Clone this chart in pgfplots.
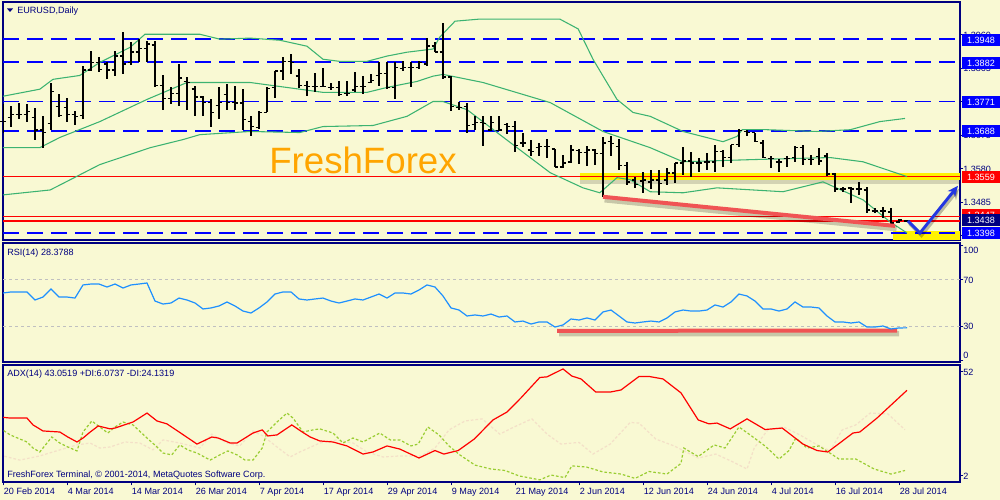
\documentclass[border=0pt]{standalone}
\usepackage{fontspec}
\setmainfont{Liberation Sans}
\usepackage{pgfplots}
\pgfplotsset{compat=1.18}
\usepackage{pgfplotstable}
\usetikzlibrary{arrows.meta}

\definecolor{chartbg}{RGB}{249,249,211}
\definecolor{frame}{RGB}{0,0,128}
\definecolor{band}{RGB}{60,179,113}
\definecolor{levelblue}{RGB}{0,0,255}
\definecolor{trendred}{RGB}{240,84,84}
\definecolor{rsiblue}{RGB}{30,144,255}
\definecolor{pdi}{RGB}{154,205,50}
\definecolor{mdi}{RGB}{244,224,200}
\definecolor{wmark}{RGB}{255,165,0}
\definecolor{arrowblue}{RGB}{35,55,225}
\definecolor{dotgray}{RGB}{192,192,192}

\newcommand\lbl{\fontsize{6.8}{8}\selectfont}

% open / close ticks of the bars
\pgfdeclareplotmark{otick}{\pgfpathmoveto{\pgfqpoint{-2.6pt}{0pt}}\pgfpathlineto{\pgfqpoint{0pt}{0pt}}\pgfusepathqstroke}
\pgfdeclareplotmark{ctick}{\pgfpathmoveto{\pgfqpoint{0pt}{0pt}}\pgfpathlineto{\pgfqpoint{2.6pt}{0pt}}\pgfusepathqstroke}

% EURUSD daily bars, 20 Feb - 29 Jul 2014
\pgfplotstableread{
i o h l c
0 1.3714 1.3763 1.3683 1.3714
1 1.3726 1.3757 1.3700 1.3734
2 1.3734 1.3768 1.3720 1.3734
3 1.3734 1.3763 1.3714 1.3743
4 1.3726 1.3754 1.3663 1.3691
5 1.3691 1.3729 1.3640 1.3683
6 1.3709 1.3825 1.3691 1.3800
7 1.3757 1.3791 1.3726 1.3731
8 1.3754 1.3780 1.3714 1.3734
9 1.3734 1.3743 1.3703 1.3729
10 1.3731 1.3871 1.3720 1.3860
11 1.3860 1.3914 1.3857 1.3882
12 1.3882 1.3897 1.3854 1.3862
13 1.3877 1.3882 1.3834 1.3860
14 1.3860 1.3914 1.3843 1.3900
15 1.3900 1.3968 1.3848 1.3877
16 1.3882 1.3939 1.3874 1.3911
17 1.3911 1.3948 1.3882 1.3922
18 1.3922 1.3942 1.3882 1.3934
19 1.3931 1.3942 1.3811 1.3817
20 1.3817 1.3845 1.3748 1.3780
21 1.3780 1.3811 1.3763 1.3794
22 1.3794 1.3877 1.3757 1.3837
23 1.3828 1.3840 1.3748 1.3825
24 1.3806 1.3814 1.3729 1.3783
25 1.3783 1.3786 1.3729 1.3768
26 1.3768 1.3777 1.3700 1.3740
27 1.3760 1.3811 1.3720 1.3768
28 1.3791 1.3820 1.3748 1.3768
29 1.3768 1.3814 1.3748 1.3766
30 1.3766 1.3806 1.3691 1.3720
31 1.3714 1.3729 1.3672 1.3700
32 1.3697 1.3743 1.3694 1.3740
33 1.3740 1.3811 1.3740 1.3808
34 1.3811 1.3857 1.3780 1.3857
35 1.3857 1.3897 1.3831 1.3885
36 1.3885 1.3905 1.3848 1.3882
37 1.3843 1.3862 1.3808 1.3817
38 1.3817 1.3828 1.3788 1.3814
39 1.3814 1.3851 1.3797 1.3814
40 1.3814 1.3865 1.3811 1.3814
41 1.3811 1.3825 1.3803 1.3811
42 1.3811 1.3828 1.3786 1.3791
43 1.3794 1.3828 1.3786 1.3794
44 1.3803 1.3854 1.3797 1.3814
45 1.3814 1.3843 1.3791 1.3814
46 1.3825 1.3848 1.3825 1.3831
47 1.3845 1.3882 1.3814 1.3851
48 1.3851 1.3882 1.3806 1.3811
49 1.3811 1.3882 1.3777 1.3868
50 1.3865 1.3885 1.3857 1.3868
51 1.3868 1.3882 1.3811 1.3868
52 1.3868 1.3885 1.3862 1.3882
53 1.3877 1.3951 1.3871 1.3928
54 1.3928 1.3939 1.3911 1.3911
55 1.3911 1.3994 1.3834 1.3840
56 1.3840 1.3843 1.3743 1.3757
57 1.3754 1.3771 1.3748 1.3754
58 1.3757 1.3768 1.3683 1.3703
59 1.3706 1.3729 1.3691 1.3711
60 1.3711 1.3729 1.3646 1.3709
61 1.3691 1.3729 1.3686 1.3711
62 1.3689 1.3729 1.3686 1.3691
63 1.3706 1.3711 1.3680 1.3700
64 1.3700 1.3717 1.3629 1.3646
65 1.3654 1.3683 1.3643 1.3654
66 1.3634 1.3663 1.3615 1.3629
67 1.3640 1.3654 1.3615 1.3643
68 1.3643 1.3666 1.3612 1.3643
69 1.3637 1.3637 1.3586 1.3586
70 1.3586 1.3620 1.3583 1.3597
71 1.3600 1.3649 1.3597 1.3634
72 1.3632 1.3637 1.3595 1.3626
73 1.3626 1.3646 1.3589 1.3634
74 1.3634 1.3637 1.3592 1.3623
75 1.3623 1.3669 1.3501 1.3654
76 1.3657 1.3674 1.3615 1.3652
77 1.3643 1.3666 1.3577 1.3589
78 1.3589 1.3600 1.3535 1.3543
79 1.3549 1.3558 1.3526 1.3535
80 1.3546 1.3572 1.3512 1.3549
81 1.3543 1.3577 1.3523 1.3549
82 1.3549 1.3577 1.3506 1.3538
83 1.3549 1.3583 1.3535 1.3569
84 1.3569 1.3597 1.3540 1.3597
85 1.3597 1.3643 1.3563 1.3603
86 1.3603 1.3629 1.3558 1.3597
87 1.3597 1.3612 1.3572 1.3597
88 1.3600 1.3626 1.3577 1.3600
89 1.3600 1.3649 1.3572 1.3629
90 1.3629 1.3634 1.3586 1.3612
91 1.3612 1.3649 1.3597 1.3649
92 1.3649 1.3694 1.3643 1.3689
93 1.3686 1.3691 1.3672 1.3683
94 1.3683 1.3683 1.3657 1.3657
95 1.3654 1.3663 1.3612 1.3612
96 1.3609 1.3615 1.3583 1.3609
97 1.3600 1.3609 1.3572 1.3600
98 1.3609 1.3615 1.3586 1.3609
99 1.3612 1.3646 1.3600 1.3640
100 1.3640 1.3649 1.3592 1.3606
101 1.3606 1.3620 1.3592 1.3606
102 1.3615 1.3640 1.3592 1.3603
103 1.3617 1.3626 1.3560 1.3566
104 1.3566 1.3569 1.3515 1.3523
105 1.3523 1.3529 1.3515 1.3523
106 1.3526 1.3529 1.3483 1.3523
107 1.3523 1.3543 1.3506 1.3523
108 1.3520 1.3529 1.3455 1.3463
109 1.3461 1.3469 1.3455 1.3461
110 1.3461 1.3472 1.3441 1.3461
111 1.3458 1.3469 1.3421 1.3426
112 1.3429 1.3438 1.3426 1.3435
113 1.3432 1.3435 1.3429 1.3432
}\ohlc

% Bollinger bands
\pgfplotstableread{
i p
0 1.3786
4.6 1.3806
6.25 1.3834
9.6 1.3845
12.1 1.3882
15.9 1.3925
17.75 1.3962
24.6 1.3962
27.1 1.3948
30.9 1.3951
34.6 1.3945
38 1.3928
40 1.3891
42.1 1.3885
45.5 1.3885
48 1.3900
50.5 1.3911
53.75 1.3920
54.6 1.3954
56.5 1.3999
59.6 1.4005
69.6 1.4005
71.9 1.3977
73.75 1.3891
76.75 1.3777
78.75 1.3740
80.9 1.3729
85 1.3686
90 1.3657
91.75 1.3672
92.4 1.3691
95.5 1.3691
101.75 1.3686
105.9 1.3691
109.6 1.3714
112.75 1.3723
}\bbup
\pgfplotstableread{
i p
0 1.3640
4.6 1.3640
7.1 1.3669
12.1 1.3714
18 1.3777
23 1.3825
30.9 1.3825
37.1 1.3806
40 1.3797
45.5 1.3797
48 1.3811
51.75 1.3828
53.75 1.3843
55 1.3848
60 1.3825
68.4 1.3768
75 1.3686
80.9 1.3640
85 1.3600
93.4 1.3606
103.4 1.3612
107.5 1.3600
113 1.3558
}\bbmid
\pgfplotstableread{
i p
0 1.3506
5.9 1.3520
12.1 1.3592
18.4 1.3640
22.5 1.3663
24.6 1.3677
30.9 1.3686
37.1 1.3683
40 1.3700
46.25 1.3703
50.5 1.3729
53.75 1.3771
55 1.3771
58 1.3748
64.25 1.3640
68.4 1.3569
72.5 1.3526
74.6 1.3512
76.75 1.3555
78.4 1.3549
80.9 1.3515
85 1.3512
89.25 1.3526
97.5 1.3515
102.5 1.3543
107.5 1.3492
110.9 1.3429
113 1.3398
}\bblow

% RSI(14)
\pgfplotstableread{
i v
0 58.7
1 59.6
2 59.6
3 59.6
4 52.6
5 55.2
6 62.2
7 55.2
8 55.2
9 54.3
10 65.7
11 66.5
12 66.5
13 63.9
14 66.5
15 63.0
16 65.7
17 66.5
18 67.4
19 51.7
20 49.1
21 50.0
22 54.3
23 52.6
24 50.0
25 44.8
26 45.7
27 47.4
28 50.9
29 47.4
30 43.0
31 41.3
32 45.7
33 50.9
34 57.8
35 59.6
36 59.6
37 53.5
38 52.6
39 53.5
40 54.3
41 51.7
42 50.0
43 51.7
44 53.5
45 52.6
46 55.2
47 57.8
48 54.3
49 58.7
50 58.7
51 57.8
52 61.3
53 65.7
54 63.9
55 56.1
56 45.7
57 43.9
58 38.7
59 39.6
60 38.7
61 40.4
62 37.8
63 38.7
64 33.5
65 34.3
66 31.7
67 33.5
68 33.5
69 29.1
70 30.9
71 36.1
72 35.2
73 37.0
74 35.2
75 42.2
76 43.9
77 38.7
78 33.5
79 32.6
80 33.5
81 34.3
82 33.5
83 37.0
84 42.2
85 43.9
86 43.0
87 43.0
88 43.9
89 48.3
90 46.5
91 50.9
92 57.8
93 56.1
94 51.7
95 44.8
96 44.8
97 43.0
98 44.8
99 50.9
100 46.5
101 46.5
102 45.7
103 38.7
104 33.5
105 33.5
106 32.6
107 33.5
108 29.1
109 29.1
110 30.0
111 27.4
112 28.3
113 28.4
}\rsi

% ADX(14), +DI, -DI
\pgfplotstableread{
i v
-0.4 30.2
0.9 29.7
3 29.7
3.75 26.4
5 23.5
7.1 23.0
8.1 20.6
9.25 18.2
10 20.1
10.9 23.0
11.9 25.9
13.4 24.5
14 24.9
16.25 27.8
18 32.1
19.25 28.3
20.5 26.9
22.4 22.0
24.25 17.2
26.1 20.6
26.9 20.1
28.4 17.7
29.25 17.7
31.25 22.5
32.4 24.0
33.1 21.1
34.25 21.6
36.1 26.4
37.4 23.0
38.4 20.6
39.6 18.7
41.25 18.2
43 16.3
45 12.4
46.25 13.4
48 16.3
49.6 14.8
52 10.5
54 14.1
55.1 12.4
56.9 14.1
58.9 19.6
61.25 28.8
63 32.6
64.75 39.4
67.1 49.2
68 49.5
70 53.3
71.1 49.9
72.25 48.5
74.1 42.2
75.9 42.2
77.25 43.2
79.5 49.7
80.75 49.7
82.5 48.5
84.75 41.8
86.9 28.8
88.25 26.9
89.25 27.3
90.9 24.5
93 29.3
95.25 24.2
97.4 24.9
100 17.2
101.75 14.1
103.1 13.4
106.25 22.5
107.1 23.0
109.25 29.7
113 43.05
}\adx
\pgfplotstableread{
i v
-0.4 24.9
0.9 21.6
3 18.2
3.75 15.3
4.6 13.4
6.1 20.6
7.1 17.7
8.1 15.8
9.25 13.9
10 23.0
11.1 28.3
12.1 25.4
13.1 22.5
14 25.4
15 27.8
16.25 26.4
18 20.1
19.25 15.8
20 12.9
21.1 12.0
22.1 16.8
23.1 14.4
24.25 12.9
25.9 9.5
27.1 12.0
28.1 13.9
29.25 12.0
30.25 9.5
31.25 9.5
32.4 15.3
33 23.0
34.25 27.8
35.5 32.1
36.25 29.7
37.5 23.0
38.75 24.0
39.6 24.5
41.25 22.5
42.5 17.7
43.75 20.1
45 18.2
47.1 22.5
48.4 19.2
49.6 19.2
51 16.3
51.9 17.2
53.1 25.4
54.5 21.6
55.75 16.3
57.1 12.0
59 7.1
61 5.2
62.75 4.5
64.5 1.9
67.1 0.0
68.5 2.3
70.25 1.1
71.1 6.7
72.9 6.2
75 3.8
77.25 2.8
79 0.7
80.75 4.0
83 2.8
84.75 7.9
85.1 15.3
86.9 11.2
88.9 16.8
90.25 15.3
92 25.4
93.25 22.0
95.25 16.3
97 10.0
98.25 14.1
99.1 20.1
100.5 15.3
102 16.3
104.5 10.0
106.6 10.0
108.9 5.2
111 2.8
112.75 4.5
}\pdi
\pgfplotstableread{
i v
-0.4 11.9
2.1 9.5
4.6 11.5
7.1 14.4
9.25 16.8
10.9 17.7
12.1 15.3
13.4 15.8
15.25 18.2
17.1 17.7
18.75 14.4
20 19.2
22.1 17.7
24.6 15.3
26.1 22.0
28 17.7
29.6 16.3
31.25 23.5
32.5 21.1
34.25 15.8
35.9 11.0
37.1 13.4
39.6 17.7
41.75 19.2
43.75 17.7
45.5 13.4
47.5 11.0
49.6 11.5
52.25 11.5
54 15.3
55.75 24.0
57.75 28.3
59.9 29.3
62.1 22.0
63.6 24.9
66.1 29.3
68 22.0
69.75 17.2
72 18.0
73.75 12.4
75.9 17.2
78.4 27.6
79.5 27.3
81.6 19.6
83.9 16.3
86.9 10.5
89.1 12.4
91.25 8.6
93 5.2
93.9 15.3
95.6 24.0
97.6 25.4
99.6 21.6
101.6 17.2
103.4 13.9
104.9 24.0
106.6 26.4
108.4 32.1
110.6 31.7
112.75 24.1
}\mdi

\pgfplotsset{
  panel/.style={
    scale only axis, width=717.75pt, anchor=south west,
    xmin=0, xmax=119.625,
    axis line style={frame, line width=1.1pt},
    tick style={frame, line width=0.75pt},
    tick align=outside, major tick length=2.6pt,
    xtick=\empty, ytick pos=right, yticklabels={},
    clip mode=individual,
  },
  level/.style={levelblue, line width=1.4pt, dash pattern=on 12pt off 6pt},
}

\begin{document}
\begin{tikzpicture}
\fill[chartbg] (0,0) rectangle (750pt,375pt);

% watermark, pixel coordinates
\begin{scope}[x=0.75pt, y=-0.75pt, yshift=375pt]
\node[text=wmark, font=\fontsize{27.5}{30}\selectfont, inner sep=0pt] at (363,160) {FreshForex};
\end{scope}

% price panel
\begin{axis}[panel, at={(2.25pt,195pt)}, height=178.5pt,
  ymin=1.3378, ymax=1.40535,
  ytick={1.3390,1.3485,1.3580,1.3675,1.3770,1.3865,1.3960}]
\addplot[draw=none, fill=black, fill opacity=0.15] coordinates {(72.1,1.3549) (119.625,1.3549) (119.625,1.3536) (72.1,1.3536)};
\addplot[draw=none, fill=yellow] coordinates {(72.1,1.35695) (119.625,1.35695) (119.625,1.3549) (72.1,1.3549)};
\addplot[draw=none, fill=yellow] coordinates {(111.25,1.3404) (119.625,1.3404) (119.625,1.3378) (111.25,1.3378)};
\addplot[level] coordinates {(0,1.3948) (119.625,1.3948)};
\addplot[level] coordinates {(0,1.3882) (119.625,1.3882)};
\addplot[level] coordinates {(0,1.3771) (119.625,1.3771)};
\addplot[level] coordinates {(0,1.3688) (119.625,1.3688)};
\addplot[level] coordinates {(0,1.3398) (119.625,1.3398)};
\addplot[red, line width=0.8pt] coordinates {(0,1.3558) (119.625,1.3558)};
\addplot[red, line width=0.8pt] coordinates {(0,1.3445) (119.625,1.3445)};
\addplot[red, line width=0.8pt] coordinates {(0,1.3432) (119.625,1.3432)};
\addplot[band, line width=0.8pt] table[x=i, y=p] {\bbup};
\addplot[band, line width=0.8pt] table[x=i, y=p] {\bbmid};
\addplot[band, line width=0.8pt] table[x=i, y=p] {\bblow};
\addplot[draw=none, mark=none, error bars/.cd, y dir=both, y explicit, error mark=none,
  error bar style={draw=black, line width=1.3pt}]
  table[x=i, y=c, y error plus expr={\thisrow{h}-\thisrow{c}}, y error minus expr={\thisrow{c}-\thisrow{l}}] {\ohlc};
\addplot[black, only marks, mark=otick, line width=1.2pt] table[x=i, y=o] {\ohlc};
\addplot[black, only marks, mark=ctick, line width=1.2pt] table[x=i, y=c] {\ohlc};
\addplot[black, opacity=0.2, line width=4pt] coordinates {(75.2,1.3492) (111.7,1.3410)};
\addplot[trendred, line width=3pt] coordinates {(75,1.35006) (111.5,1.3418)};
\addplot[black, opacity=0.25, line width=2.2pt, -{Stealth[length=8pt,width=7pt]}] coordinates {(113.3,1.3424) (114.8,1.3390) (119.5,1.3523)};
\addplot[arrowblue, line width=2.2pt, -{Stealth[length=8pt,width=7pt]}] coordinates {(113.125,1.34321) (114.625,1.3398) (119.375,1.35319)};
\end{axis}

% RSI panel
\begin{axis}[panel, at={(2.25pt,103.5pt)}, height=89.25pt,
  ymin=-1.3, ymax=102.17, ytick={0,30,70,100}]
\addplot[dotgray, line width=0.75pt, dash pattern=on 2.25pt off 2.25pt] coordinates {(0,70) (119.625,70)};
\addplot[dotgray, line width=0.75pt, dash pattern=on 2.25pt off 2.25pt] coordinates {(0,30) (119.625,30)};
\addplot[black, opacity=0.2, line width=4pt] coordinates {(69.5,23.2) (112,23.4)};
\addplot[trendred, line width=3pt] coordinates {(69.25,25.8) (111.75,26.0)};
\addplot[rsiblue, line width=0.9pt] table[x=i, y=v] {\rsi};
\end{axis}

% ADX panel
\begin{axis}[panel, at={(2.25pt,13.5pt)}, height=87.75pt,
  ymin=-1.03, ymax=55.2, ytick={2,52},
  xtick={0,8,...,112}, xtick pos=left,
  xticklabels={20 Feb 2014,4 Mar 2014,14 Mar 2014,26 Mar 2014,7 Apr 2014,17 Apr 2014,29 Apr 2014,9 May 2014,21 May 2014,2 Jun 2014,12 Jun 2014,24 Jun 2014,4 Jul 2014,16 Jul 2014,28 Jul 2014},
  xticklabel style={font=\lbl, text=frame, anchor=north west, inner sep=0pt, xshift=0.5pt, yshift=-1.5pt}]
\addplot[mdi, line width=0.9pt, dash pattern=on 2pt off 1.5pt] table[x=i, y=v] {\mdi};
\addplot[pdi, line width=0.9pt, dash pattern=on 2pt off 1.5pt] table[x=i, y=v] {\pdi};
\addplot[red, line width=0.9pt] table[x=i, y=v] {\adx};
\end{axis}

% texts and price labels, pixel coordinates
\begin{scope}[x=0.75pt, y=-0.75pt, yshift=375pt,
  rl/.style={anchor=west, inner sep=0pt, text=frame, font=\lbl},
  bx/.style={minimum width=28.5pt, minimum height=9pt, inner sep=0pt, text=white, font=\lbl}]
\fill[frame] (7,8.5) -- (13,8.5) -- (10,12) -- cycle;
\node[rl] at (17,11) {EURUSD,Daily};
\node[rl] at (7,253) {RSI(14) 28.3788};
\node[rl] at (7,374) {ADX(14) 43.0519 +DI:6.0737 -DI:24.1319};
\node[rl] at (7,475) {FreshForex Terminal, © 2001-2014, MetaQuotes Software Corp.};
\node[rl] at (963,35.8) {1.3960};
\node[rl] at (963,68.8) {1.3865};
\node[rl] at (963,135) {1.3675};
\node[rl] at (963,169) {1.3580};
\node[rl] at (963,202) {1.3485};
\node[rl] at (963,236) {1.3390};
\node[rl] at (963,250) {100};
\node[rl] at (963,280) {70};
\node[rl] at (963,326) {30};
\node[rl] at (963,355) {0};
\node[rl] at (963,372) {52};
\node[rl] at (963,476) {2};
\node[bx, fill=levelblue] at (981,40) {1.3948};
\node[bx, fill=levelblue] at (981,63) {1.3882};
\node[bx, fill=levelblue] at (981,102) {1.3771};
\node[bx, fill=levelblue] at (981,131) {1.3688};
\node[bx, fill=red] at (981,177) {1.3559};
\node[bx, fill=red] at (981,215) {1.3447};
\node[bx, fill=frame] at (981,220) {1.3438};
\node[bx, fill=levelblue] at (981,233) {1.3398};
\end{scope}

\pgfresetboundingbox
\path[use as bounding box] (0,0) rectangle (750pt,375pt);
\end{tikzpicture}
\end{document}
